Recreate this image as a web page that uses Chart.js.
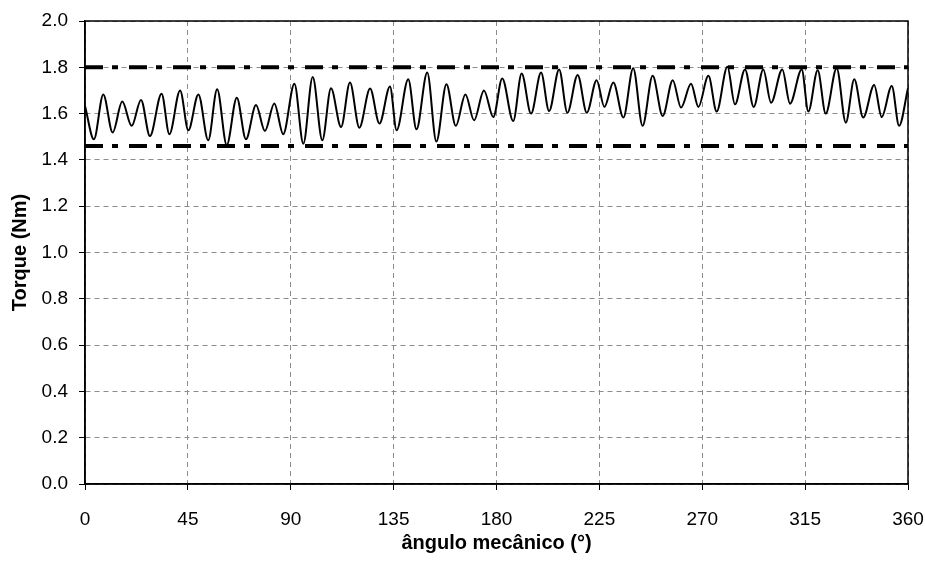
<!DOCTYPE html>
<html>
<head>
<meta charset="utf-8">
<script src="https://cdn.jsdelivr.net/npm/chart.js@4/dist/chart.umd.min.js"></script>
<style>
  html, body { margin: 0; padding: 0; background: #fff; }
  canvas { display: block; }
</style>
</head>
<body>
<canvas id="torque" width="925" height="561"></canvas>
<script>
// Mechanical angle (degrees) at each peak / valley of the torque ripple
const angles = [0, 3.9, 8.0, 12.1, 16.3, 20.4, 24.5, 28.4, 33.5, 36.9, 41.6, 45.2, 49.6, 53.9,
  57.8, 62.0, 66.4, 70.4, 74.8, 78.7, 82.8, 86.7, 91.6, 95.5, 99.6, 103.8, 107.6, 112.0,
  115.9, 120.0, 124.7, 128.8, 133.4, 136.3, 141.4, 145.0, 149.7, 153.7, 158.1, 162.2, 166.4, 170.2,
  174.5, 178.6, 182.5, 187.3, 191.0, 195.1, 199.5, 203.0, 207.4, 211.0, 215.5, 219.5, 223.8, 227.2,
  231.1, 235.5, 239.8, 243.9, 248.3, 252.7, 257.1, 260.7, 265.1, 268.3, 272.7, 276.3, 281.0, 284.3,
  288.7, 292.5, 296.7, 300.1, 305.0, 308.4, 313.5, 316.4, 320.5, 324.0, 328.8, 332.8, 336.5, 340.4,
  345.2, 348.5, 352.9, 356.1, 360];

// Torque (Nm) at those angles
const torque = [1.633, 1.489, 1.683, 1.518, 1.652, 1.547, 1.659, 1.503, 1.686, 1.511, 1.700, 1.528, 1.683, 1.485,
  1.705, 1.464, 1.669, 1.489, 1.637, 1.525, 1.644, 1.511, 1.729, 1.470, 1.758, 1.485, 1.709, 1.542,
  1.734, 1.539, 1.708, 1.557, 1.717, 1.528, 1.748, 1.532, 1.777, 1.479, 1.727, 1.547, 1.683, 1.571,
  1.700, 1.585, 1.752, 1.568, 1.773, 1.600, 1.777, 1.611, 1.791, 1.604, 1.767, 1.604, 1.744, 1.629,
  1.734, 1.583, 1.796, 1.547, 1.763, 1.590, 1.744, 1.626, 1.729, 1.629, 1.763, 1.609, 1.802, 1.640,
  1.791, 1.629, 1.791, 1.647, 1.791, 1.643, 1.791, 1.609, 1.787, 1.600, 1.796, 1.561, 1.748, 1.583,
  1.724, 1.585, 1.719, 1.547, 1.71];

// Upper and lower torque limits
const upperLimit = 1.80;
const lowerLimit = 1.46;

// Axis ranges and tick steps
const xRange = [0, 360];
const xStep = 45;
const yRange = [0, 2.0];
const yStep = 0.2;

const FONT = "'Liberation Sans', Arial, sans-serif";

const ripple = angles.map((a, i) => ({ x: a, y: torque[i] }));
const limitLine = v => xRange.map(x => ({ x, y: v }));

// Thin black frame around the plotting area
const frame = {
  id: 'frame',
  afterDraw(chart) {
    const { ctx, chartArea: a } = chart;
    ctx.save();
    ctx.strokeStyle = '#000';
    ctx.lineWidth = 1.5;
    ctx.setLineDash([]);
    ctx.strokeRect(a.left, a.top, a.right - a.left, a.bottom - a.top);
    ctx.restore();
  }
};

const limitStyle = {
  borderColor: '#000',
  borderWidth: 4,
  borderDash: [18, 9, 6, 11],
  pointRadius: 0,
  fill: false,
  tension: 0
};

const gridStyle = {
  color: '#8c8c8c',
  tickBorderDash: [],
  tickColor: '#000',
  tickLength: 6,
  lineWidth: 1
};

const borderStyle = { display: true, color: '#000', width: 1.5, dash: [5, 4] };

new Chart(document.getElementById('torque'), {
  type: 'line',
  data: {
    datasets: [
      { label: 'limite superior', data: limitLine(upperLimit), ...limitStyle },
      { label: 'limite inferior', data: limitLine(lowerLimit), ...limitStyle },
      {
        label: 'Torque',
        data: ripple,
        borderColor: '#000',
        borderWidth: 2,
        pointRadius: 0,
        fill: false,
        cubicInterpolationMode: 'monotone'
      }
    ]
  },
  options: {
    responsive: false,
    animation: false,
    layout: { padding: { left: 0, right: 17, top: 21, bottom: 0 } },
    plugins: { legend: { display: false }, tooltip: { enabled: false } },
    scales: {
      x: {
        type: 'linear',
        min: xRange[0], max: xRange[1],
        afterFit(s) { s.height = 77; s.paddingLeft = 0; s.paddingRight = 0; },
        ticks: {
          stepSize: xStep,
          color: '#000',
          font: { family: FONT, size: 19 },
          padding: 18,
          maxRotation: 0
        },
        grid: gridStyle,
        border: borderStyle,
        title: {
          display: true,
          text: 'ângulo mecânico (°)',
          color: '#000',
          font: { family: FONT, size: 20, weight: 'bold' },
          padding: { top: 0, bottom: 6 }
        }
      },
      y: {
        min: yRange[0], max: yRange[1],
        afterFit(s) { s.width = 85; s.paddingTop = 0; s.paddingBottom = 0; },
        ticks: {
          stepSize: yStep,
          color: '#000',
          font: { family: FONT, size: 19 },
          padding: 11,
          callback: v => Number(v).toFixed(1)
        },
        grid: gridStyle,
        border: borderStyle,
        title: {
          display: true,
          text: 'Torque (Nm)',
          color: '#000',
          font: { family: FONT, size: 20, weight: 'bold' },
          padding: { top: 8, bottom: 0 }
        }
      }
    }
  },
  plugins: [frame]
});
</script>
</body>
</html>
